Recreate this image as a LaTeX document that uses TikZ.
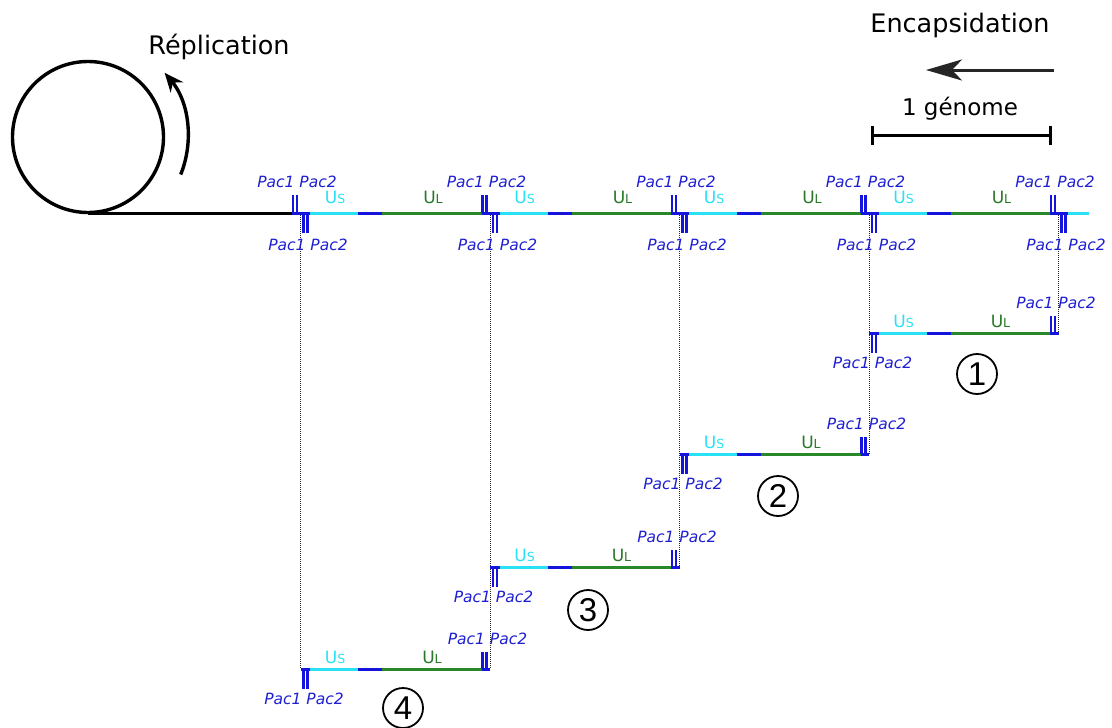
\documentclass[tikz,border=0pt]{standalone}
\usepackage{fontspec}
\setmainfont{DejaVu Sans}
\newfontfamily\digitfont{Liberation Sans}
\usetikzlibrary{arrows.meta}
\definecolor{pacblue}{RGB}{30,30,210}
\definecolor{tickblue}{RGB}{20,20,220}
\definecolor{uscyan}{RGB}{40,225,245}
\definecolor{ulgreen}{RGB}{40,135,40}
\definecolor{ultext}{RGB}{40,120,40}
\tikzset{
  pac/.style={font=\fontsize{15.5}{15.5}\selectfont\itshape, text=pacblue, inner sep=0pt},
  uslab/.style={font=\fontsize{17}{17}\selectfont, text=uscyan, inner sep=0pt},
  ullab/.style={font=\fontsize{17}{17}\selectfont, text=ultext, inner sep=0pt},
  seg/.style={line width=3pt},
  pactick/.style={draw=tickblue, line width=2.5pt},
  guide/.style={draw=black!85, line width=1pt, dash pattern=on 1pt off 1pt},
  title/.style={font=\fontsize{25.5}{25.5}\selectfont, inner sep=0pt},
  numc/.style={draw, circle, line width=1.8pt, minimum size=40pt, inner sep=0pt, font=\digitfont\fontsize{33}{33}\selectfont},
}
\newcommand{\us}{U{\fontsize{12.5}{12.5}\selectfont S}}
\newcommand{\ul}{U{\fontsize{12.5}{12.5}\selectfont L}}
\begin{document}
\begin{tikzpicture}[x=1pt,y=-1pt]
\useasboundingbox (0,0) rectangle (1112,728);
% dotted guides
\foreach \k/\yb in {1/669,2/669,3/567,4/454,5/333}{
  \pgfmathsetmacro{\T}{295+189.5*(\k-1)}
  \coordinate (gtop\k) at (\T+5.5,213);
  \coordinate (gbot\k) at (\T+5.5,\yb);
  \draw[guide] (gtop\k) -- (gbot\k);
}
% circle and replication
\node[draw, circle, line width=3.4pt, minimum size=151pt, inner sep=0pt] (circ) at (88,137) {};
\coordinate (arcs) at (180.7,174.5);
\draw[line width=3.4pt, -{Stealth[length=19pt,width=16pt]}] (arcs) arc (22:-40:100);
\node[title] (repl) at (219,47) {Réplication};
% main line
\coordinate (m0) at (88,213);
\coordinate (m1) at (293,213);
\draw[seg, black] (m0) -- (m1);
\foreach \k in {1,...,4}{
  \pgfmathsetmacro{\T}{295+189.5*(\k-1)}
  \pgfmathsetmacro{\Tn}{\T+189.5}
  \draw[seg, tickblue] (\T-3,213) -- (\T+15,213);
  \draw[seg, uscyan] (\T+15,213) -- (\T+63,213);
  \draw[seg, tickblue] (\T+63,213) -- (\T+87,213);
  \draw[seg, ulgreen] (\T+87,213) -- (\Tn-3,213);
  \node[uslab] (mus\k) at (\T+40,197) {\us};
  \node[ullab] (mul\k) at (\T+138,197) {\ul};
}
\draw[seg, tickblue] (1050,213) -- (1068,213);
\draw[seg, uscyan] (1068,213) -- (1089,213);
\foreach \k in {1,...,5}{
  \pgfmathsetmacro{\T}{295+189.5*(\k-1)}
  \draw[pactick] (\T-2.2,213) -- (\T-2.2,195);
  \draw[pactick] (\T+2.2,213) -- (\T+2.2,195);
  \draw[pactick] (\T+8.3,213) -- (\T+8.3,233);
  \draw[pactick] (\T+12.7,213) -- (\T+12.7,233);
  \node[pac] (mt\k) at (\T+2,182) {Pac1 Pac2};
  \node[pac] (mb\k) at (\T+13,245) {Pac1 Pac2};
}
% fragments
\foreach \j/\yf in {1/333,2/454,3/567,4/669}{
  \pgfmathsetmacro{\T}{295+189.5*(4-\j)}
  \pgfmathsetmacro{\Tn}{\T+189.5}
  \draw[seg, tickblue] (\T+5.5,\yf) -- (\T+15,\yf);
  \draw[seg, uscyan] (\T+15,\yf) -- (\T+63,\yf);
  \draw[seg, tickblue] (\T+63,\yf) -- (\T+87,\yf);
  \draw[seg, ulgreen] (\T+87,\yf) -- (\Tn-3,\yf);
  \draw[seg, tickblue] (\Tn-3,\yf) -- (\Tn+5.5,\yf);
  \draw[pactick] (\T+8.3,\yf) -- (\T+8.3,\yf+20);
  \draw[pactick] (\T+12.7,\yf) -- (\T+12.7,\yf+20);
  \draw[pactick] (\Tn-2.2,\yf) -- (\Tn-2.2,\yf-17);
  \draw[pactick] (\Tn+2.2,\yf) -- (\Tn+2.2,\yf-17);
  \node[pac] (ft\j) at (\Tn+3,\yf-30) {Pac1 Pac2};
  \node[pac] (fb\j) at (\T+9,\yf+30) {Pac1 Pac2};
  \node[uslab] (fus\j) at (\T+40,\yf-12) {\us};
  \node[ullab] (ful\j) at (\T+137,\yf-12) {\ul};
}
% circled numbers
\node[numc] (n1) at (977,374) {1};
\node[numc] (n2) at (778,496) {2};
\node[numc] (n3) at (588,610) {3};
\node[numc] (n4) at (403,708) {4};
% encapsidation
\node[title] (enc) at (960,25) {Encapsidation};
\coordinate (ea) at (1054,70);
\coordinate (eb) at (926,70);
\draw[line width=3pt, draw=black!85, -{Stealth[length=36pt,width=21pt,inset=10pt]}] (ea) -- (eb);
\node[font=\fontsize{23}{23}\selectfont, inner sep=0pt] (gen) at (960,109) {1 génome};
\coordinate (s1) at (871,135);
\coordinate (s2) at (1052,135);
\draw[line width=3pt, {Bar[width=19pt]}-{Bar[width=19pt]}] (s1) -- (s2);
\end{tikzpicture}
\end{document}
